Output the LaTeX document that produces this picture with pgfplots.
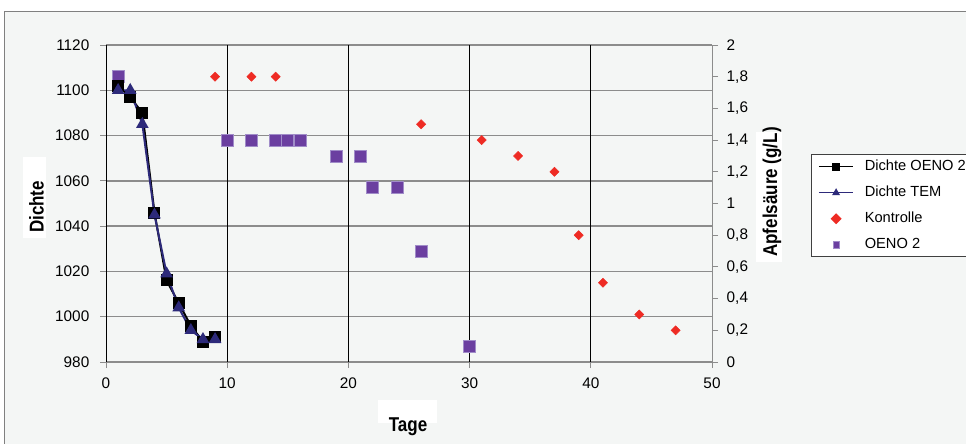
\documentclass[border=0pt]{standalone}
\usepackage{fontspec}
\setmainfont{Liberation Sans}
\usepackage{graphicx}
\usepackage{pgfplots}
\pgfplotsset{compat=1.18}
\definecolor{bgc}{HTML}{F4F6F5}
\definecolor{gridc}{HTML}{8C8C8C}
\definecolor{navy}{HTML}{2D2A7A}
\definecolor{kred}{HTML}{EE2B24}
\definecolor{purp}{HTML}{6B3FA0}
\definecolor{purpb}{HTML}{A08CC8}
\newcommand\labfont{\fontsize{15}{18}\selectfont\bfseries}
\begin{document}
\begin{tikzpicture}
\useasboundingbox (0,0) rectangle (724.5pt,-332.25pt);
\fill[white] (0,0) rectangle (724.5pt,-332.25pt);
\filldraw[fill=bgc, draw=gray, line width=0.6pt] (3pt,-8.25pt) rectangle (740pt,-345pt);
\pgfplotsset{
  base/.style={
    at={(79.5pt,-271.5pt)}, anchor=south west,
    scale only axis, width=454.5pt, height=237.75pt,
    xmin=0, xmax=50,
    clip=false,
    /pgf/number format/assume math mode=true,
    tick label style={font=\fontsize{11.5}{13}\selectfont},
  }
}
% grid and left axis
\begin{axis}[base, ymin=980, ymax=1120,
  ytick={980,1000,1020,1040,1060,1080,1100,1120}, xtick={0,10,20,30,40,50},
  axis x line*=bottom, axis y line*=left,
  x axis line style={gridc, line width=0.75pt},
  y axis line style={black, line width=0.75pt},
  tick align=outside, major tick length=4.5pt,
  tick style={gridc, line width=0.75pt},
  yticklabel style={xshift=-4.5pt},
  xticklabel style={yshift=-3.75pt},
  ymajorgrids, major grid style={gridc, line width=1pt},
  extra x ticks={10,20,30,40}, extra x tick labels={},
  extra x tick style={grid=major, major tick length=0pt, major grid style={black, line width=0.6pt}},
  /pgf/number format/1000 sep={},
]
\end{axis}
% right axis with scatter
\begin{axis}[base, ymin=0, ymax=2,
  ytick={0,0.2,0.4,0.6,0.8,1,1.2,1.4,1.6,1.8,2},
  axis y line*=right, axis x line=none,
  y axis line style={gridc, line width=0.75pt},
  tick align=outside, major tick length=4.5pt,
  tick style={gridc, line width=0.75pt},
  yticklabel style={xshift=3pt, /pgf/number format/fixed, /pgf/number format/use comma},
  legend style={at={(1.1634,0.655)}, anchor=north west, draw=black!75, line width=0.6pt, fill=white,
    font=\fontsize{11}{13}\selectfont, nodes={inner sep=0pt, text height=8pt, text depth=2pt, anchor=west},
    row sep=9.5pt, column sep=8pt, inner xsep=5pt, inner ysep=4pt},
  legend cell align=left,
  legend image code/.code={\draw[mark repeat=2, mark phase=2, line width=1pt, mark size=2.4pt] plot coordinates {(0pt,0pt)(13pt,0pt)(26pt,0pt)};},
]
\addlegendimage{black, mark=square*}
\addlegendentry{Dichte OENO 2}
\addlegendimage{navy, mark=triangle*}
\addlegendentry{Dichte TEM}
\addplot[only marks, mark=square*, mark size=2.4pt, mark options={rotate=45, fill=kred, draw=kred}]
  coordinates {(9,1.8)(12,1.8)(14,1.8)(26,1.5)(31,1.4)(34,1.3)(37,1.2)(39,0.8)(41,0.5)(44,0.3)(47,0.2)};
\addlegendentry{Kontrolle}
\addplot[only marks, mark=square*, mark size=4.5pt, mark options={fill=purp, draw=purpb, line width=0.5pt}]
  coordinates {(1,1.8)(10,1.4)(12,1.4)(14,1.4)(15,1.4)(16,1.4)(19,1.3)(21,1.3)(22,1.1)(24,1.1)(26,0.7)(30,0.1)};
\addlegendentry{OENO 2}
\end{axis}
% density lines
\begin{axis}[base, ymin=980, ymax=1120, hide axis]
\addplot[black, line width=1.5pt, mark=square*, mark size=3.75pt]
  coordinates {(1,1102)(2,1097)(3,1090)(4,1046)(5,1016)(6,1006)(7,996)(8,989)(9,991)};
\addplot[navy, line width=1.5pt, mark=triangle*, mark size=4pt]
  coordinates {(1,1100)(2,1100)(3,1085)(4,1045)(5,1019)(6,1004)(7,994)(8,990)(9,990)};
\end{axis}
% axis labels
\fill[white] (17.25pt,-117.75pt) rectangle (34.5pt,-178.5pt);
\node[rotate=90, inner sep=0pt] at (27.4pt,-155.25pt) {\labfont\scalebox{0.85}[1]{Dichte}};
\fill[white] (283.5pt,-300pt) rectangle (327.75pt,-317.25pt);
\node[anchor=base, inner sep=0pt] at (306pt,-323.25pt) {\labfont\scalebox{0.85}[1]{Tage}};
\fill[white] (567pt,-99pt) rectangle (586.5pt,-196.5pt);
\node[rotate=90, inner sep=0pt] at (579pt,-144pt) {\labfont\scalebox{0.85}[1]{Apfelsäure (g/L)}};
\end{tikzpicture}
\end{document}
